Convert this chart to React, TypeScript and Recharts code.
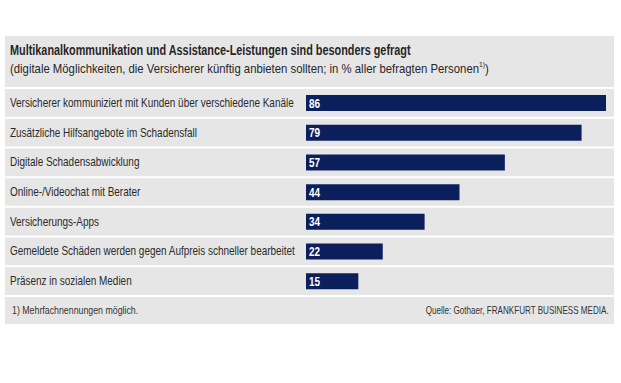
import { BarChart, Bar, XAxis, YAxis, LabelList } from "recharts";

// Daten
const categories = [
  "Versicherer kommuniziert mit Kunden über verschiedene Kanäle",
  "Zusätzliche Hilfsangebote im Schadensfall",
  "Digitale Schadensabwicklung",
  "Online-/Videochat mit Berater",
  "Versicherungs-Apps",
  "Gemeldete Schäden werden gegen Aufpreis schneller bearbeitet",
  "Präsenz in sozialen Medien",
];
const values = [86, 79, 57, 44, 34, 22, 15];

const title = "Multikanalkommunikation und Assistance-Leistungen sind besonders gefragt";
const subtitle = "(digitale Möglichkeiten, die Versicherer künftig anbieten sollten; in % aller befragten Personen";
const footnote = "1)  Mehrfachnennungen möglich.";
const source = "Quelle: Gothaer, FRANKFURT BUSINESS MEDIA.";

const data = categories.map((name, i) => ({ name, value: values[i] }));

const W = 621;
const H = 383;
const MARGIN = { top: 88, right: 15, bottom: 87, left: 5 };
const ROW_H = (H - MARGIN.top - MARGIN.bottom) / categories.length;
const NAVY = "#0b1f5c";
const PANEL = "#e6e6e6";
const FONT = '"Liberation Sans", Arial, sans-serif';
const SX = 0.83; // schmale Schrift nachbilden

// Kategorie-Beschriftung + weiße Trennlinien
function CategoryTick(props: any) {
  const { y, payload, index } = props;
  const top = y - ROW_H / 2;
  const isLast = index === categories.length - 1;
  return (
    <g>
      <line x1={5} x2={614} y1={top} y2={top} stroke="#fff" strokeWidth={2} />
      {isLast && (
        <line x1={5} x2={614} y1={top + ROW_H} y2={top + ROW_H} stroke="#fff" strokeWidth={2} />
      )}
      <text
        x={0}
        y={0}
        dy={4}
        transform={`translate(10, ${y}) scale(${SX}, 1)`}
        fontSize={12}
        fill="#2b2b2b"
        fontFamily={FONT}
        textAnchor="start"
      >
        {payload.value}
      </text>
    </g>
  );
}

function ValueLabel(props: any) {
  const { x, y, height, value } = props;
  return (
    <text
      x={0}
      y={0}
      dy={4.5}
      transform={`translate(${x + 3}, ${y + height / 2}) scale(${SX}, 1)`}
      fill="#fff"
      fontSize={12}
      fontWeight={700}
      fontFamily={FONT}
    >
      {value}
    </text>
  );
}

const narrow = (s: number, origin = "left top") => ({ transform: `scaleX(${s})`, transformOrigin: origin });

export default function App() {
  return (
    <div style={{ position: "absolute", left: 0, top: 0, width: W, height: H, background: "#fff", fontFamily: FONT }}>
      <div style={{ position: "absolute", left: 5, top: 36, width: 609, height: 288, background: PANEL }} />
      <div style={{ position: "absolute", left: 10, top: 42, fontSize: 14, color: "#262626", fontWeight: 700, whiteSpace: "nowrap", ...narrow(0.775) }}>
        {title}
      </div>
      <div style={{ position: "absolute", left: 10, top: 60, fontSize: 13.5, color: "#262626", whiteSpace: "nowrap", ...narrow(0.84) }}>
        {subtitle}
        <sup style={{ fontSize: 8 }}>1)</sup>)
      </div>
      <div style={{ position: "absolute", left: 0, top: 0 }}>
        <BarChart width={W} height={H} data={data} layout="vertical" margin={MARGIN} barSize={16}>
          <XAxis type="number" domain={[0, 86]} hide />
          <YAxis
            type="category"
            dataKey="name"
            width={301}
            axisLine={false}
            tickLine={false}
            tick={<CategoryTick />}
            interval={0}
          />
          <Bar dataKey="value" fill={NAVY} isAnimationActive={false}>
            <LabelList dataKey="value" content={<ValueLabel />} />
          </Bar>
        </BarChart>
      </div>
      <div style={{ position: "absolute", left: 12, top: 304, fontSize: 11, color: "#333", whiteSpace: "nowrap", ...narrow(0.8) }}>
        {footnote}
      </div>
      <div style={{ position: "absolute", right: 12, top: 304, fontSize: 10.5, color: "#333", whiteSpace: "nowrap", ...narrow(0.77, "right top") }}>
        {source}
      </div>
    </div>
  );
}
